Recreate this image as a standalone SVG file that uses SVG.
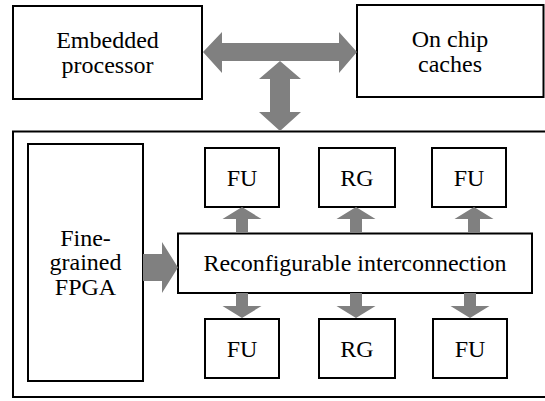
<svg xmlns="http://www.w3.org/2000/svg" width="545" height="401" viewBox="0 0 545 401">
  <style>
    .box { fill: #ffffff; stroke: #000000; stroke-width: 2; }
    .lbl { font-size: 24px; fill: #000000; text-anchor: middle; }
    .arrow { fill: #808080; stroke: none; }
  </style>
  <rect x="0" y="0" width="545" height="401" fill="#ffffff"/>

  <g font-family="Liberation Serif, DejaVu Serif, serif">
  <!-- top-level blocks -->
  <g id="embedded-processor">
    <rect class="box" x="13" y="6" width="189" height="93"/>
    <text class="lbl" x="107.5" y="48">Embedded</text>
    <text class="lbl" x="107.5" y="73">processor</text>
  </g>
  <g id="on-chip-caches">
    <rect class="box" x="357" y="5" width="186.5" height="92"/>
    <text class="lbl" x="450" y="47">On chip</text>
    <text class="lbl" x="450" y="72">caches</text>
  </g>

  <!-- reconfigurable fabric container -->
  <g id="fabric">
    <rect class="box" x="13" y="131.5" width="534" height="265.5"/>
  </g>

  <g id="fpga">
    <rect class="box" x="28" y="144" width="115" height="237"/>
    <text class="lbl" x="85.5" y="246">Fine-</text>
    <text class="lbl" x="85.5" y="270">grained</text>
    <text class="lbl" x="85.5" y="295">FPGA</text>
  </g>

  <g id="interconnect">
    <rect class="box" x="178" y="233.5" width="354" height="59.5"/>
    <text class="lbl" x="355" y="271">Reconfigurable interconnection</text>
  </g>

  <g id="fu-top-1">
    <rect class="box" x="205" y="148" width="74" height="59"/>
    <text class="lbl" x="242" y="185.5">FU</text>
  </g>
  <g id="rg-top">
    <rect class="box" x="319" y="148" width="76" height="59"/>
    <text class="lbl" x="357" y="185.5">RG</text>
  </g>
  <g id="fu-top-2">
    <rect class="box" x="432" y="148" width="74" height="59"/>
    <text class="lbl" x="469" y="185.5">FU</text>
  </g>
  <g id="fu-bottom-1">
    <rect class="box" x="205" y="319" width="74" height="59"/>
    <text class="lbl" x="242" y="356.5">FU</text>
  </g>
  <g id="rg-bottom">
    <rect class="box" x="319" y="319" width="76" height="59"/>
    <text class="lbl" x="357" y="356.5">RG</text>
  </g>
  <g id="fu-bottom-2">
    <rect class="box" x="433" y="319" width="74" height="59"/>
    <text class="lbl" x="470" y="356.5">FU</text>
  </g>
  </g>

  <!-- block arrows -->
  <g id="connectors">
    <!-- processor <-> caches bus -->
    <polygon class="arrow" points="203,52 222,32 222,43 339,43 339,32 357,52 339,73 339,61 222,61 222,73"/>
    <!-- bus <-> fabric -->
    <polygon class="arrow" points="280,61 301,79 290,79 290,112 301,112 280,131 259,112 270,112 270,79 259,79"/>
    <!-- FPGA -> interconnect -->
    <polygon class="arrow" points="143,254 162,254 162,242 178,267.5 162,293 162,281 143,281"/>
    <!-- interconnect -> upper units -->
    <polygon class="arrow" points="242,207 261.5,219 248,219 248,233 236,233 236,219 222.5,219"/>
    <polygon class="arrow" points="356,207 375.5,219 362,219 362,233 350,233 350,219 336.5,219"/>
    <polygon class="arrow" points="474,207 493.5,219 480,219 480,233 468,233 468,219 454.5,219"/>
    <!-- interconnect -> lower units -->
    <polygon class="arrow" points="236,293 248,293 248,306 261.5,306 242,318 222.5,306 236,306"/>
    <polygon class="arrow" points="350,293 362,293 362,306 375.5,306 356,318 336.5,306 350,306"/>
    <polygon class="arrow" points="464,293 476,293 476,306 489.5,306 470,318 450.5,306 464,306"/>
  </g>
</svg>
